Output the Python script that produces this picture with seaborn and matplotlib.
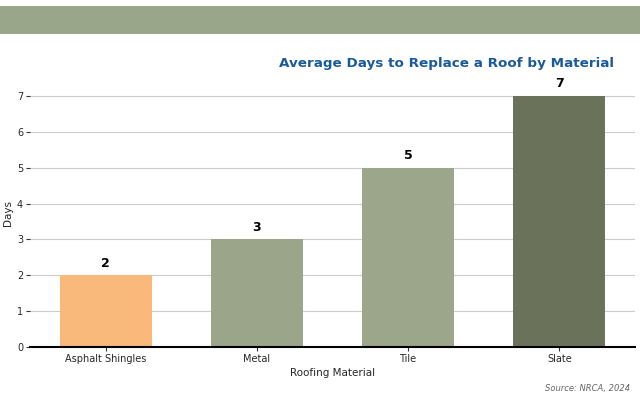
"""
Average days to replace a roof, by roofing material.
"""

import matplotlib.pyplot as plt
import pandas as pd
import seaborn as sns
from matplotlib.patches import Rectangle

# ==========================================================
# Data
# ==========================================================

materials = ["Asphalt Shingles", "Metal", "Tile", "Slate"]
days = [2, 3, 5, 7]
bar_colors = ["#f8b97a", "#9ba58a", "#9ca68b", "#6a7259"]

# ==========================================================
# Style
# ==========================================================

sns.set_theme(style="whitegrid")
plt.rcParams["font.family"] = ["DejaVu Sans"]


def main() -> None:
    df = pd.DataFrame({"material": materials, "days": days})

    fig = plt.figure(figsize=(6.4, 4.0), dpi=100)
    fig.patch.set_facecolor("white")

    # top banner
    fig.patches.append(
        Rectangle((0, 0.915), 1, 0.07, transform=fig.transFigure,
                  facecolor="#9aa68a", edgecolor="none", zorder=0)
    )

    ax = fig.add_axes([0.047, 0.1325, 0.945, 0.6725])

    sns.barplot(
        data=df,
        x="material",
        y="days",
        hue="material",
        palette=bar_colors,
        width=0.61,
        legend=False,
        saturation=1,
        linewidth=0,
        ax=ax,
    )

    for container, value in zip(ax.containers, days):
        ax.bar_label(container, labels=[str(value)], padding=4,
                     fontsize=9, fontweight="bold", color="black")

    ax.set_xlim(-0.5, 3.5)
    ax.set_ylim(0, 7.5)
    ax.set_yticks(range(0, 8))

    ax.grid(axis="y", color="#cccccc", linewidth=0.8)
    ax.grid(axis="x", visible=False)
    ax.set_axisbelow(True)
    ax.set_facecolor("white")

    for side in ["top", "right", "left"]:
        ax.spines[side].set_visible(False)
    ax.spines["bottom"].set_color("black")
    ax.spines["bottom"].set_linewidth(1.5)

    ax.tick_params(axis="both", labelsize=7, length=3, width=0.8,
                   color="#333333", left=True, bottom=True, pad=2)

    ax.set_xlabel("Roofing Material", fontsize=7.5, labelpad=3)
    ax.set_ylabel("Days", fontsize=7.5, labelpad=3)

    fig.text(0.96, 0.842, "Average Days to Replace a Roof by Material",
             ha="right", va="center", fontsize=9.7, fontweight="bold",
             color="#1a5a98")

    fig.text(0.985, 0.03, "Source: NRCA, 2024", ha="right", va="center",
             fontsize=6, style="italic", color="#666666")

    fig.savefig("out.png", dpi=100)
    plt.close(fig)


if __name__ == "__main__":
    main()
